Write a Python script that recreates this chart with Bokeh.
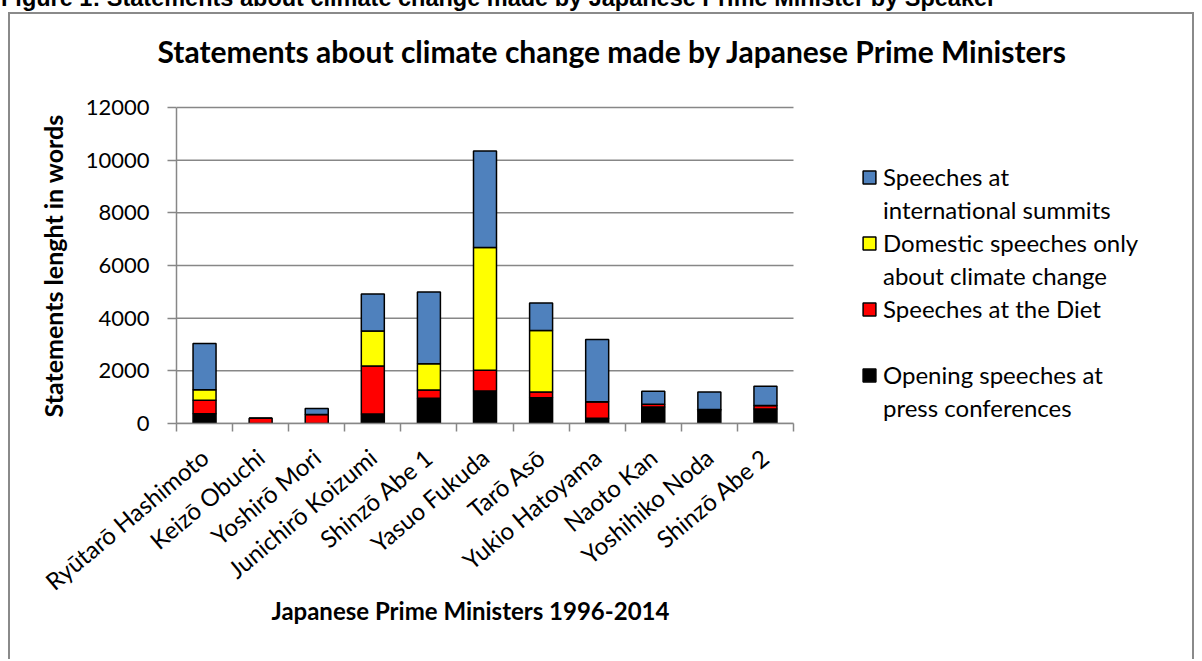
import math
from bokeh.plotting import figure
from bokeh.layouts import column
from bokeh.models import Range1d, FixedTicker, Legend, LegendItem, ColumnDataSource, Title, Div
from bokeh.embed import file_html
from bokeh.resources import INLINE

# ---- data ----
prime_ministers = ["Ryūtarō Hashimoto", "Keizō Obuchi", "Yoshirō Mori", "Junichirō Koizumi",
                   "Shinzō Abe 1", "Yasuo Fukuda", "Tarō Asō", "Yukio Hatoyama",
                   "Naoto Kan", "Yoshihiko Noda", "Shinzō Abe 2"]
press_conferences = [367, 0, 0, 365, 960, 1235, 980, 200, 630, 480, 555]
diet_speeches = [518, 200, 340, 1815, 310, 785, 220, 630, 100, 0, 125]
domestic_climate = [400, 0, 0, 1335, 1000, 4660, 2330, 0, 0, 50, 0]
international_summits = [1755, 0, 227, 1400, 2720, 3670, 1044, 2360, 495, 670, 735]

# legend texts, one list of lines per series (bottom-to-top stack order)
series_label_lines = [["Opening speeches at", "press conferences"],
                      ["Speeches at the Diet", " "],
                      ["Domestic speeches only", "about climate change"],
                      ["Speeches at", "international summits"]]
series_colors = ["#000000", "#FF0000", "#FFFF00", "#4F81BD"]
y_ticks = [0, 2000, 4000, 6000, 8000, 10000, 12000]
y_axis_max = 12000

FONT = "Lato"
GRID = "#878787"

n = len(prime_ministers)
positions = [i + 0.5 for i in range(n)]
source = ColumnDataSource(dict(x=positions, press=press_conferences, diet=diet_speeches,
                               domestic=domestic_climate, summits=international_summits))

# the frame also holds the legend area to the right of the bars
x_end = n * 1020 / 617

p = figure(width=1186, height=647, output_backend="svg", toolbar_location=None,
           x_range=Range1d(0, x_end), y_range=Range1d(0, 12873),
           min_border_left=166, min_border_right=0, min_border_top=0, min_border_bottom=238,
           title="Statements about climate change made by Japanese Prime Ministers")
p.margin = (1, 0, 0, 8)
p.styles = {"border-top": "2px solid #8a8a8a", "border-left": "2px solid #8a8a8a",
            "border-right": "2px solid #8a8a8a"}
p.outline_line_color = None
p.background_fill_color = "white"
p.border_fill_color = "white"

p.title.text_font = FONT
p.title.text_font_size = "30px"
p.title.text_font_style = "bold"
p.title.text_color = "black"
p.title.align = "left"
p.title.offset = -19
p.title.standoff = 32

# horizontal gridlines only over the category area
p.xgrid.visible = False
p.ygrid.visible = False
p.segment(x0=[0] * len(y_ticks), x1=[n] * len(y_ticks), y0=y_ticks, y1=y_ticks,
          line_color=GRID, line_width=1.5)

renderers = p.vbar_stack(["press", "diet", "domestic", "summits"], x="x", width=0.41,
                         color=series_colors, line_color="black", line_width=1.5, source=source)
# invisible renderer used for the continuation lines of the legend
blank = p.vbar(x=[], top=[], width=0.41, fill_alpha=0, line_alpha=0)

# axes
yax = p.yaxis[0]
yax.bounds = (0, y_axis_max)
yax.ticker = FixedTicker(ticks=y_ticks)
yax.axis_line_color = GRID
yax.axis_line_width = 1.5
yax.major_tick_line_color = GRID
yax.major_tick_line_width = 1.5
yax.major_tick_in = 0
yax.major_tick_out = 9
yax.minor_tick_line_color = None
yax.major_label_text_font = FONT
yax.major_label_text_font_size = "22px"
yax.major_label_text_color = "black"
yax.major_label_standoff = 18

xax = p.xaxis[0]
xax.bounds = (0, n)
xax.ticker = FixedTicker(ticks=positions, minor_ticks=list(range(n + 1)))
xax.major_label_overrides = {pos: name for pos, name in zip(positions, prime_ministers)}
xax.major_label_orientation = math.radians(40)
xax.axis_line_color = GRID
xax.axis_line_width = 1.5
xax.major_tick_line_color = None
xax.major_tick_in = 0
xax.major_tick_out = 0
xax.minor_tick_line_color = GRID
xax.minor_tick_line_width = 1.5
xax.minor_tick_in = 0
xax.minor_tick_out = 8
xax.major_label_text_font = FONT
xax.major_label_text_font_size = "24px"
xax.major_label_text_color = "black"
xax.major_label_standoff = 22

# axis titles
y_title = Title(text="Statements lenght in words", align="left", offset=6, standoff=30,
                text_font=FONT, text_font_size="25px", text_font_style="bold", text_color="black")
p.add_layout(y_title, "left")
x_title = Title(text="Japanese Prime Ministers 1996-2014", align="left", offset=95, standoff=-28,
                vertical_align="top",
                text_font=FONT, text_font_size="24px", text_font_style="bold", text_color="black")
p.add_layout(x_title, "below")

items = []
for i in range(3, -1, -1):
    lines = series_label_lines[i]
    items.append(LegendItem(label=lines[0], renderers=[renderers[i]]))
    for extra in lines[1:]:
        items.append(LegendItem(label=extra, renderers=[blank]))

legend = Legend(items=items, location=(685, 1), glyph_width=16, glyph_height=16,
                label_text_font=FONT, label_text_font_size="24px", label_text_color="black",
                label_standoff=6, label_height=29, spacing=4, padding=0, margin=0,
                border_line_color=None, background_fill_alpha=0)
p.add_layout(legend, "center")

# caption of the document page, cut by the top edge of the picture
header = Div(text="Figure 1: Statements about climate change made by Japanese Prime Minister by Speaker",
             width=1190, height=26, margin=(-15, 0, 0, 1),
             styles={"font-family": "'Liberation Sans', Arial, sans-serif", "font-weight": "bold",
                     "font-size": "23.5px", "line-height": "26px", "white-space": "nowrap",
                     "color": "black"})

layout = column(header, p, spacing=0)
open("out.html", "w").write(file_html(layout, INLINE))
